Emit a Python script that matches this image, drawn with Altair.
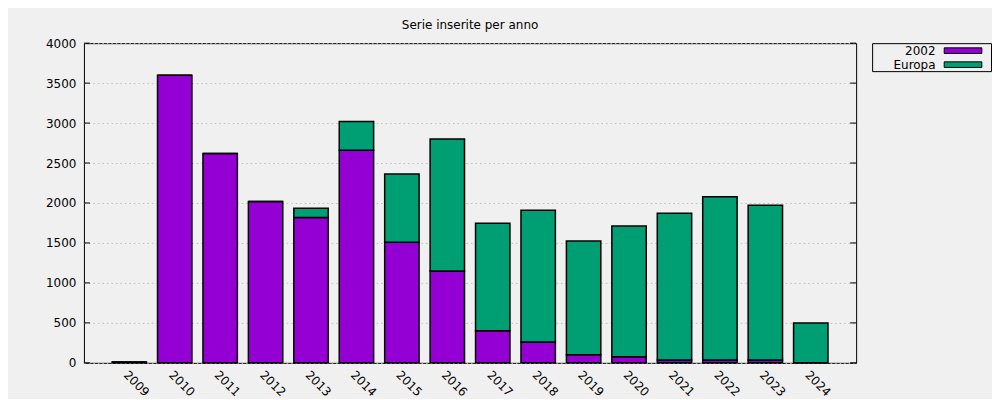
import altair as alt
import pandas as pd

years = [str(y) for y in range(2009, 2025)]
serie_2002 = [12, 3600, 2620, 2020, 1820, 2660, 1510, 1150, 400, 262, 100, 75, 35, 35, 35, 0]
serie_europa = [0, 0, 0, 0, 113, 361, 852, 1650, 1346, 1646, 1425, 1637, 1836, 2044, 1936, 500]
series = ["2002", "Europa"]
colors = ["#9400d3", "#009e73"]
yticks = [0, 500, 1000, 1500, 2000, 2500, 3000, 3500, 4000]

rows = []
for i, y in enumerate(years):
    rows.append({"anno": y, "serie": "2002", "valore": serie_2002[i], "ord": 0})
    rows.append({"anno": y, "serie": "Europa", "valore": serie_europa[i], "ord": 1})
df = pd.DataFrame(rows)
ticks_df = pd.DataFrame({"v": yticks})

FONT = "DejaVu Sans"

y_axis = alt.Axis(title=None, values=yticks, format="d", labelOverlap=False,
                  grid=True, gridDash=[1.5, 3],
                  gridColor="#bdbdbd", gridWidth=1, ticks=False, domain=False,
                  labelPadding=8, labelFontSize=12, labelFont=FONT, labelColor="black")
y_scale = alt.Scale(domain=[0, 4000], nice=False)

bars = alt.Chart(df).mark_bar(stroke="black", strokeWidth=1.5).encode(
    x=alt.X("anno:N", sort=years,
            scale=alt.Scale(paddingInner=0.243, paddingOuter=0.62),
            axis=alt.Axis(title=None, labelAngle=45, labelAlign="left", labelBaseline="top",
                          ticks=False, domain=False, labelPadding=6, labelFontSize=12,
                          labelFont=FONT, labelColor="black", grid=False)),
    y=alt.Y("valore:Q", stack="zero", scale=y_scale, axis=y_axis),
    color=alt.Color("serie:N",
                    scale=alt.Scale(domain=series, range=colors),
                    legend=alt.Legend(title=None, orient="none", legendX=789, legendY=0,
                                      symbolType="M-2.69,-0.4H2.69V0.4H-2.69ZM3.71,0",
                                      symbolSize=196,
                                      symbolStrokeColor="black", symbolStrokeWidth=1,
                                      symbolOpacity=1, symbolOffset=83.5,
                                      labelAlign="right", labelOffset={"expr": "-35"},
                                      labelFontSize=12, labelFont=FONT, labelColor="black",
                                      strokeColor="black", padding=0, rowPadding=0,
                                      fillColor="#f0f0f0")),
    order=alt.Order("ord:Q"),
)

tick_left = alt.Chart(ticks_df).mark_rule(color="black", strokeWidth=1).encode(
    y=alt.Y("v:Q", scale=y_scale, axis=y_axis), x=alt.value(0), x2=alt.value(6))
tick_right = alt.Chart(ticks_df).mark_rule(color="black", strokeWidth=1).encode(
    y=alt.Y("v:Q", scale=y_scale, axis=y_axis), x=alt.value(767), x2=alt.value(773))

chart = alt.layer(bars, tick_left, tick_right).properties(
    width=773, height=320,
    title=alt.TitleParams("Serie inserite per anno", fontSize=12, font=FONT,
                          fontWeight="normal", color="black", anchor="middle",
                          baseline="bottom", offset={"expr": "-7"}),
    autosize=alt.AutoSizeParams(type="none"),
    padding={"left": 76, "top": 35, "right": 136, "bottom": 36},
    background="#f0f0f0",
).configure_view(stroke="black", strokeWidth=1)

chart.save("out.html", embed_options={"renderer": "svg", "actions": False})
